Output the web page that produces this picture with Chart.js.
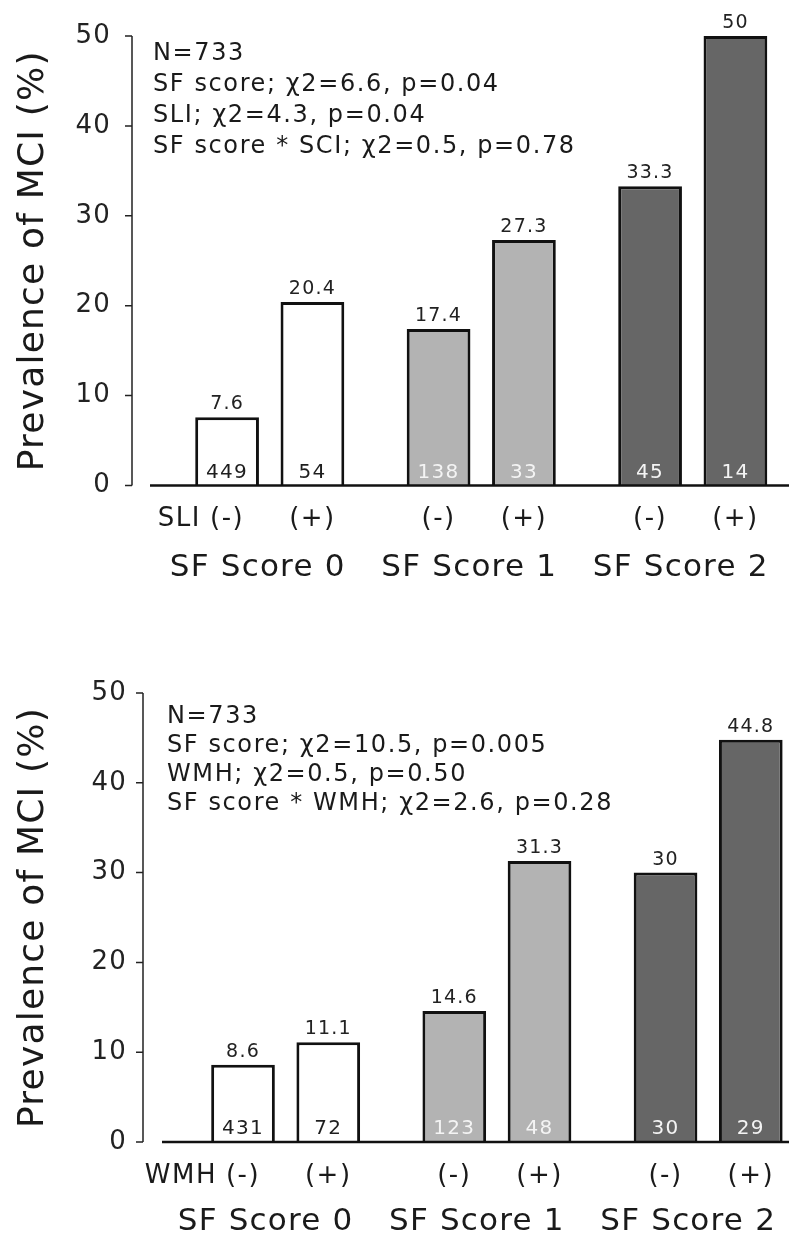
<!DOCTYPE html>
<html><head><meta charset="utf-8">
<script src="https://cdn.jsdelivr.net/npm/chart.js@4.4.1/dist/chart.umd.min.js"></script>
<style>
html,body{margin:0;padding:0;background:#fff;width:789px;height:1238px;overflow:hidden;position:relative;}
#c1{position:absolute;left:0;top:0;}
#c2{position:absolute;left:0;top:650px;}
</style></head><body>
<canvas id="c1" width="800" height="650"></canvas>
<canvas id="c2" width="815" height="600"></canvas>
<script>
// ---- data ----
const groups = ['SF Score 0', 'SF Score 1', 'SF Score 2'];
const groupColors = ['#ffffff', '#b3b3b3', '#666666'];
const countColors = ['#1e1e1e', '#f4f4f4', '#f4f4f4'];
const subLabels = ['(-)', '(+)'];
const yTickStep = 10;
const yMax = 50;

const sliNeg = [7.6, 17.4, 33.3];
const sliPos = [20.4, 27.3, 50];
const sliNegN = [449, 138, 45];
const sliPosN = [54, 33, 14];
const statsTop = ['N=733', 'SF score; \u03c72=6.6, p=0.04', 'SLI; \u03c72=4.3, p=0.04', 'SF score * SCI; \u03c72=0.5, p=0.78'];

const wmhNeg = [8.6, 14.6, 30];
const wmhPos = [11.1, 31.3, 44.8];
const wmhNegN = [431, 123, 30];
const wmhPosN = [72, 48, 29];
const statsBottom = ['N=733', 'SF score; \u03c72=10.5, p=0.005', 'WMH; \u03c72=0.5, p=0.50', 'SF score * WMH; \u03c72=2.6, p=0.28'];

const FONT = "'DejaVu Sans', Verdana, sans-serif";
Chart.defaults.font.family = FONT;

const annot = {
  id: 'annot',
  beforeLayout(chart) { chart.ctx.letterSpacing = '1.2px'; },
  beforeDraw(chart) { chart.ctx.letterSpacing = '1.2px'; },
  afterDatasetsDraw(chart, args, o) {
    const { ctx, chartArea, scales: { y } } = chart;
    const ax = chartArea.left - o.axisGap;
    const by = y.getPixelForValue(0);
    ctx.save();
    // y axis line + ticks
    ctx.strokeStyle = '#222';
    ctx.lineWidth = 1.5;
    ctx.beginPath();
    ctx.moveTo(ax, y.getPixelForValue(y.max));
    ctx.lineTo(ax, by);
    y.ticks.forEach(t => {
      const py = y.getPixelForValue(t.value);
      ctx.moveTo(ax - 7, py); ctx.lineTo(ax, py);
    });
    ctx.stroke();
    // baseline
    ctx.strokeStyle = '#111';
    ctx.lineWidth = 2.5;
    ctx.beginPath();
    ctx.moveTo(chartArea.left - o.baseGap, by);
    ctx.lineTo(chart.width, by);
    ctx.stroke();

    // bar labels
    chart.data.datasets.forEach((ds, di) => {
      const meta = chart.getDatasetMeta(di);
      meta.data.forEach((bar, i) => {
        ctx.letterSpacing = '1.2px';
        ctx.font = '19px ' + FONT;
        ctx.fillStyle = '#222';
        ctx.textAlign = 'center';
        ctx.textBaseline = 'alphabetic';
        ctx.fillText(String(ds.data[i]), bar.x, bar.y - 8);
        ctx.letterSpacing = '1.3px';
        ctx.font = '20px ' + FONT;
        ctx.fillStyle = countColors[i];
        ctx.fillText(String(ds.counts[i]), bar.x, by - 8);
        ctx.letterSpacing = '1.5px';
        ctx.font = '26px ' + FONT;
        ctx.fillStyle = '#1a1a1a';
        ctx.textBaseline = 'middle';
        ctx.fillText(subLabels[di], bar.x, by + 34);
        if (di === 0 && i === 0) {
          const w = ctx.measureText(subLabels[di]).width;
          ctx.textAlign = 'right';
          ctx.fillText(o.factor, bar.x - w / 2 - 9, by + 34);
        }
      });
    });

    // stats text
    ctx.letterSpacing = '1.6px';
    ctx.font = '24px ' + FONT;
    ctx.fillStyle = '#1a1a1a';
    ctx.textAlign = 'left';
    ctx.textBaseline = 'alphabetic';
    const top = y.getPixelForValue(y.max);
    o.stats.forEach((s, i) => {
      ctx.fillText(s, ax + o.statsDx, top + o.statsDy + i * o.statsLine);
    });
    ctx.restore();
  }
};

function zeroPad(s) { s.paddingTop = 0; s.paddingBottom = 0; s.paddingLeft = 0; s.paddingRight = 0; }

function makeChart(id, neg, pos, negN, posN, cfg) {
  return new Chart(document.getElementById(id), {
    type: 'bar',
    data: {
      labels: groups,
      datasets: [
        { data: neg, counts: negN },
        { data: pos, counts: posN }
      ].map(d => Object.assign(d, {
        backgroundColor: groupColors,
        borderColor: '#111',
        borderWidth: 3,
        borderSkipped: 'start',
        categoryPercentage: 0.807,
        barPercentage: 0.747
      }))
    },
    options: {
      responsive: false,
      animation: false,
      events: [],
      layout: { padding: { top: cfg.padTop, right: cfg.padRight, bottom: cfg.padBottom, left: 0 } },
      plugins: {
        legend: { display: false },
        tooltip: { enabled: false },
        annot: cfg
      },
      scales: {
        x: {
          grid: { display: false },
          border: { display: false },
          ticks: { font: { size: 31 }, color: '#1a1a1a', padding: cfg.xPad, labelOffset: cfg.xShift, maxRotation: 0, autoSkip: false },
          afterFit: s => { s.height = cfg.xHeight; zeroPad(s); }
        },
        y: {
          min: 0, max: yMax,
          grid: { display: false },
          border: { display: false },
          ticks: { stepSize: yTickStep, font: { size: 26 }, color: '#222', padding: cfg.yPad },
          title: { display: true, text: 'Prevalence of MCI (%)', font: { size: 36 }, color: '#1a1a1a', padding: { top: 12, bottom: 0 } },
          afterFit: s => { s.width = cfg.yWidth; zeroPad(s); }
        }
      }
    },
    plugins: [annot]
  });
}

makeChart('c1', sliNeg, sliPos, sliNegN, sliPosN, {
  factor: 'SLI', stats: statsTop,
  padTop: 36, padRight: 1.5, padBottom: 44.5, xHeight: 120, yWidth: 164, xPad: 56, yPad: 45, xShift: -12,
  axisGap: 32, baseGap: 14, statsDx: 21, statsDy: 24, statsLine: 31
});
makeChart('c2', wmhNeg, wmhPos, wmhNegN, wmhPosN, {
  factor: 'WMH', stats: statsBottom,
  padTop: 43, padRight: 1.2, padBottom: 18, xHeight: 90, yWidth: 180, xPad: 53, yPad: 45, xShift: -20,
  axisGap: 37, baseGap: 18, statsDx: 24, statsDy: 30, statsLine: 29
});
</script>
</body></html>
